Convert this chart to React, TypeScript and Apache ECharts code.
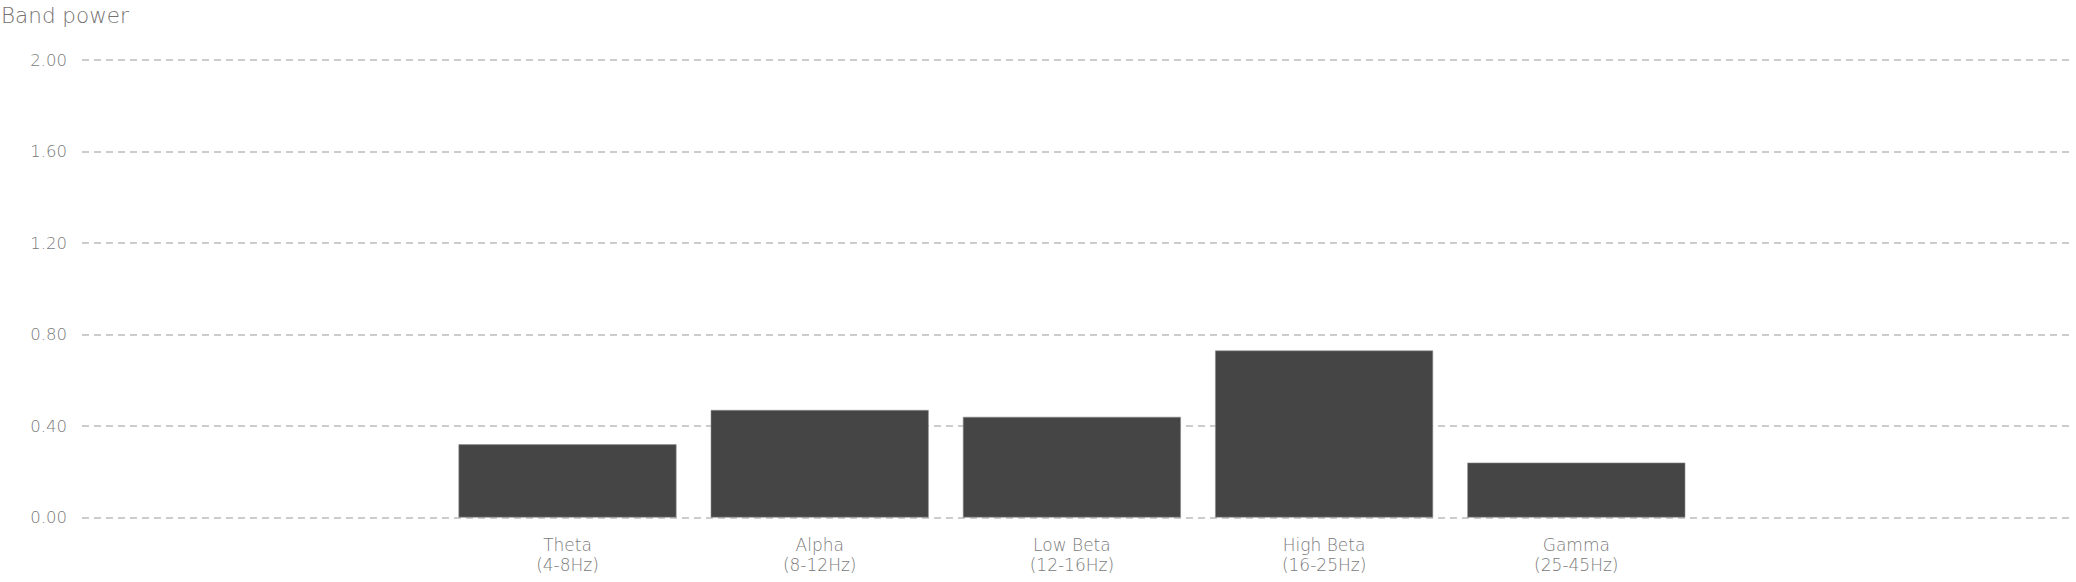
import React, { useEffect, useRef } from "react";
import * as echarts from "echarts";

const categories = ["Theta\n(4-8Hz)", "Alpha\n(8-12Hz)", "Low Beta\n(12-16Hz)", "High Beta\n(16-25Hz)", "Gamma\n(25-45Hz)"];
const bandPower = [0.32, 0.47, 0.44, 0.73, 0.24];
const yTicks = { min: 0, max: 2, interval: 0.4 };
const axisTitle = "Band power";

const FONT = "DejaVu Sans";
const TEXT = "#7a7a7a";

export default function App() {
  const ref = useRef<HTMLDivElement>(null);
  useEffect(() => {
    if (!ref.current) return;
    const chart = echarts.init(ref.current, null, { renderer: "svg" });
    const top = 60;
    const bottom = 64.5;
    chart.setOption({
      animation: false,
      title: {
        text: axisTitle,
        left: 1,
        top: 4,
        padding: 0,
        textStyle: { fontFamily: FONT, fontWeight: 200, fontSize: 21.5, color: "#74716f" },
      },
      grid: [
        { left: 82, right: 2, top, bottom, containLabel: false, outerBoundsMode: "none" },
        { left: 441.4, right: 373.6, top, bottom, containLabel: false, outerBoundsMode: "none" },
      ],
      xAxis: [
        { type: "value", gridIndex: 0, show: false, min: 0, max: 1 },
        {
          type: "category",
          gridIndex: 1,
          data: categories,
          axisLine: { show: false },
          axisTick: { show: false },
          axisLabel: {
            fontFamily: FONT,
            fontWeight: 200,
            fontSize: 17,
            color: TEXT,
            margin: 17,
            lineHeight: 20,
          },
        },
      ],
      yAxis: [
        {
          type: "value",
          gridIndex: 0,
          min: yTicks.min,
          max: yTicks.max,
          interval: yTicks.interval,
          axisLine: { show: false },
          axisTick: { show: false },
          axisLabel: {
            fontFamily: FONT,
            fontWeight: 200,
            fontSize: 16.5,
            color: TEXT,
            margin: 15,
            formatter: (v: number) => v.toFixed(2),
          },
          splitLine: { lineStyle: { color: "#bcbcbc", width: 1.5, type: [7, 5] } },
        },
        {
          type: "value",
          gridIndex: 1,
          min: yTicks.min,
          max: yTicks.max,
          show: false,
          splitLine: { show: false },
        },
      ],
      series: [
        {
          type: "bar",
          xAxisIndex: 1,
          yAxisIndex: 1,
          data: bandPower,
          barWidth: 218,
          itemStyle: { color: "#454545", borderColor: "#8f8f8f", borderWidth: 0.6 },
        },
      ],
    });
    return () => chart.dispose();
  }, []);
  return (
    <div
      ref={ref}
      style={{ position: "fixed", left: 0, top: 0, width: 2076, height: 582, background: "#fff" }}
    />
  );
}
